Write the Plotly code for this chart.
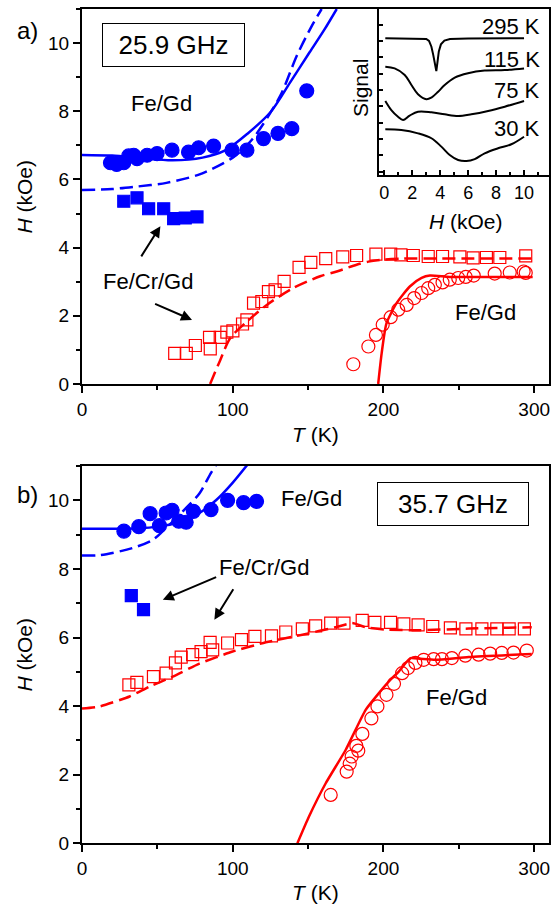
import plotly.graph_objects as go

# ---------------- Panel a (25.9 GHz) ----------------
a_fegd_blue_T = [18.9, 23.0, 27.7, 31.0, 34.3, 36.5, 43.2, 49.8, 59.7, 70.7, 77.4, 87.3, 99.5, 109.4, 120.4, 130.0, 139.2, 149.1]
a_fegd_blue_H = [6.49, 6.44, 6.49, 6.69, 6.71, 6.61, 6.71, 6.76, 6.86, 6.80, 6.93, 6.98, 6.86, 6.86, 7.20, 7.35, 7.49, 8.60]
a_fecrgd_blue_T = [27.7, 36.5, 44.2, 54.2, 60.8, 68.5, 76.3]
a_fecrgd_blue_H = [5.36, 5.46, 5.14, 5.14, 4.85, 4.87, 4.90]
a_blue_solid_T = [0, 20, 40, 60, 80, 95, 110, 125, 138, 151, 161, 169]
a_blue_solid_H = [6.72, 6.70, 6.62, 6.56, 6.64, 6.85, 7.35, 7.97, 8.84, 9.73, 10.41, 11.0]
a_blue_dash_T = [0, 20, 34, 56, 78, 100, 113, 131.5, 142.5, 152.4, 159]
a_blue_dash_H = [5.69, 5.72, 5.78, 5.90, 6.15, 6.64, 7.18, 8.45, 9.63, 10.5, 11.0]
a_red_sq_T = [61.5, 69.2, 75.2, 85.1, 84.6, 91.7, 96.1, 100.1, 106.5, 109.4, 113.8, 119.3, 123.7, 128.1, 134.1, 144, 151.8, 161.7, 173, 182.2,
              195, 204.8, 211.6, 219.8, 229.7, 239.2, 250.7, 259.5, 268.3, 277.2, 294.4]
a_red_sq_H = [0.90, 0.90, 1.13, 1.03, 1.37, 1.37, 1.52, 1.56, 1.76, 1.88, 2.37, 2.42, 2.71, 2.76, 3.01, 3.42, 3.57, 3.68, 3.73, 3.77,
              3.81, 3.81, 3.79, 3.77, 3.74, 3.74, 3.73, 3.70, 3.71, 3.71, 3.76]
a_red_dash_T = [85, 91.7, 98.3, 109.4, 122.6, 140, 158, 169, 182.2, 190, 200, 213, 235, 257, 299]
a_red_dash_H = [0, 0.7, 1.34, 1.83, 2.32, 2.81, 3.16, 3.30, 3.50, 3.59, 3.65, 3.68, 3.68, 3.68, 3.68]
a_red_circ_T = [180, 190, 195, 199.5, 204.8, 209.8, 215.4, 220.4, 225.3, 229.7, 234.1, 239.2, 244, 249.6, 254.6, 259.9, 273.8, 283.8, 293, 294.4]
a_red_circ_H = [0.58, 1.10, 1.44, 1.74, 1.96, 2.18, 2.32, 2.52, 2.67, 2.81, 2.91, 2.98, 3.06, 3.11, 3.14, 3.18, 3.24, 3.27, 3.30, 3.26]
a_red_solid_T = [196.5, 198.8, 202, 208.7, 217.5, 225.3, 230.8, 244, 270, 299]
a_red_solid_H = [0, 0.9, 1.78, 2.37, 2.86, 3.11, 3.18, 3.14, 3.14, 3.14]

# ---------------- Panel b (35.7 GHz) ----------------
b_fegd_blue_T = [27.8, 37.7, 45.2, 51.4, 55.8, 59.8, 64.2, 69.1, 73.9, 85.6, 96.6, 107.2, 115.8]
b_fegd_blue_H = [9.10, 9.23, 9.61, 9.26, 9.63, 9.71, 9.39, 9.36, 9.68, 9.73, 10.0, 9.93, 9.97]
b_fecrgd_blue_T = [32.7, 40.8]
b_fecrgd_blue_H = [7.22, 6.81]
b_blue_solid_T = [0, 20, 35, 51.4, 66.8, 77.9, 88.9, 99.9, 109.8]
b_blue_solid_H = [9.17, 9.17, 9.18, 9.24, 9.39, 9.63, 10.0, 10.51, 11.04]
b_blue_dash_T = [0, 12, 33.7, 47, 53.6, 68, 77.9, 85.6, 90]
b_blue_dash_H = [8.39, 8.40, 8.61, 8.85, 9.10, 9.73, 10.2, 10.8, 11.1]
b_red_sq_T = [31.1, 36.4, 47.4, 55.8, 62, 65.8, 73.4, 79, 85, 86.7, 96.6, 105.8, 114.7, 125.7, 135.2, 146.2, 155, 165, 173.8, 185.9,
              194.3, 204.7, 213.5, 223, 232.7, 244.4, 254.7, 265.3, 275.2, 283.4, 293.5]
b_red_sq_H = [4.62, 4.69, 4.86, 4.96, 5.26, 5.43, 5.50, 5.59, 5.86, 5.64, 5.84, 5.94, 6.03, 6.05, 6.16, 6.25, 6.34, 6.42, 6.42, 6.50,
              6.44, 6.44, 6.40, 6.37, 6.32, 6.28, 6.25, 6.25, 6.25, 6.25, 6.25]
b_red_dash_T = [0, 11.7, 31.6, 44.8, 60.2, 77.9, 99.9, 122, 146.2, 168.3, 179.3, 188, 201.4, 223.4, 256.5, 298.4]
b_red_dash_H = [3.93, 3.99, 4.28, 4.57, 4.86, 5.24, 5.59, 5.86, 6.08, 6.30, 6.42, 6.30, 6.23, 6.21, 6.26, 6.30]
b_red_circ_T = [165, 175.6, 177.6, 178.9, 183.3, 182, 186, 192, 196, 202, 207, 212.4, 216.3, 221.2, 226.7, 233.3, 238.8, 245.4,
                254.3, 263.1, 270.8, 278.5, 286.3, 295.1]
b_red_circ_H = [1.41, 2.09, 2.32, 2.53, 2.70, 2.84, 3.19, 3.64, 3.99, 4.33, 4.65, 4.96, 5.11, 5.26, 5.35, 5.37, 5.37, 5.40,
                5.47, 5.50, 5.53, 5.55, 5.56, 5.62]
b_red_solid_T = [142.9, 150.6, 161.7, 174.9, 188.2, 197, 204.7, 210, 217.9, 224.5, 234.5, 256.5, 298.4]
b_red_solid_H = [0, 0.78, 1.75, 2.72, 3.89, 4.38, 4.77, 5.0, 5.40, 5.38, 5.35, 5.43, 5.52]

# ---------------- Inset (spectra) ----------------
inset_labels = ["295 K", "115 K", "75 K", "30 K"]
inset_label_S = [10.62, 8.23, 6.08, 3.34]
s295_H = [0.07, 2.5, 3.0, 3.2, 3.37, 3.50, 3.62, 3.72, 3.80, 3.90, 4.05, 4.3, 4.7, 6.0, 10.0]
s295_S = [9.79, 9.79, 9.74, 9.6, 9.18, 8.6, 7.9, 7.44, 8.05, 8.85, 9.35, 9.62, 9.73, 9.77, 9.79]
s115_H = [0.07, 0.74, 1.46, 1.94, 2.41, 3.01, 3.37, 3.85, 4.32, 5.04, 5.99, 7.18, 8.62, 10.0]
s115_S = [7.75, 7.63, 7.16, 6.44, 5.78, 5.42, 5.54, 5.96, 6.44, 6.97, 7.28, 7.47, 7.51, 7.63]
s75_H = [0.07, 0.5, 0.98, 1.34, 1.81, 2.41, 3.37, 4.32, 5.28, 6.23, 7.43, 8.62, 10.0]
s75_S = [5.30, 4.65, 4.17, 3.94, 4.25, 4.53, 4.49, 4.34, 4.22, 4.34, 4.58, 4.89, 5.30]
s30_H = [0.07, 1.22, 2.41, 3.37, 4.08, 4.68, 5.28, 5.88, 6.47, 7.18, 8.14, 9.09, 10.0]
s30_S = [3.27, 3.22, 2.98, 2.63, 2.03, 1.43, 1.07, 1.00, 1.14, 1.55, 1.91, 2.20, 2.74]

x_ticks = [0, 100, 200, 300]
y_ticks = [0, 2, 4, 6, 8, 10]
inset_x_ticks = [0, 2, 4, 6, 8, 10]

BLUE = "rgb(0,0,255)"
RED = "rgb(255,0,0)"
FONT = "Liberation Sans, Arial, sans-serif"

fig = go.Figure()


def line(x, y, color, xa, ya, dash=None, smooth=0.8, shape="spline"):
    fig.add_trace(go.Scatter(x=x, y=y, mode="lines", xaxis=xa, yaxis=ya,
                             line=dict(color=color, width=2.5, dash=dash, shape=shape,
                                       smoothing=smooth if shape == "spline" else None),
                             showlegend=False, hoverinfo="skip"))


def pts(x, y, color, sym, size, xa, ya):
    fig.add_trace(go.Scatter(x=x, y=y, mode="markers", xaxis=xa, yaxis=ya,
                             marker=dict(color=color, symbol=sym, size=size,
                                         line=dict(color=color, width=1.2)),
                             showlegend=False, hoverinfo="skip"))


DASH = "13px,6px"
# panel a
line(a_blue_solid_T, a_blue_solid_H, BLUE, "x", "y")
line(a_blue_dash_T, a_blue_dash_H, BLUE, "x", "y", dash=DASH)
line(a_red_dash_T, a_red_dash_H, RED, "x", "y", dash=DASH)
line(a_red_solid_T, a_red_solid_H, RED, "x", "y", smooth=0.6)
pts(a_fegd_blue_T, a_fegd_blue_H, BLUE, "circle", 14, "x", "y")
pts(a_fecrgd_blue_T, a_fecrgd_blue_H, BLUE, "square", 12, "x", "y")
pts(a_red_sq_T, a_red_sq_H, RED, "square-open", 12, "x", "y")
pts(a_red_circ_T, a_red_circ_H, RED, "circle-open", 13, "x", "y")

# panel b
line(b_blue_solid_T, b_blue_solid_H, BLUE, "x2", "y2")
line(b_blue_dash_T, b_blue_dash_H, BLUE, "x2", "y2", dash=DASH)
line(b_red_dash_T, b_red_dash_H, RED, "x2", "y2", dash=DASH, smooth=0.5)
line(b_red_solid_T, b_red_solid_H, RED, "x2", "y2", smooth=0.5)
pts(b_fegd_blue_T, b_fegd_blue_H, BLUE, "circle", 14, "x2", "y2")
pts(b_fecrgd_blue_T, b_fecrgd_blue_H, BLUE, "square", 12, "x2", "y2")
pts(b_red_sq_T, b_red_sq_H, RED, "square-open", 12, "x2", "y2")
pts(b_red_circ_T, b_red_circ_H, RED, "circle-open", 13, "x2", "y2")

# inset
for hx, sy, sh in [(s295_H, s295_S, "linear"), (s115_H, s115_S, "spline"),
                   (s75_H, s75_S, "spline"), (s30_H, s30_S, "spline")]:
    fig.add_trace(go.Scatter(x=hx, y=sy, mode="lines", xaxis="x3", yaxis="y3",
                             line=dict(color="black", width=2, shape=sh),
                             showlegend=False, hoverinfo="skip"))

W, H = 559, 905


def px(x):
    return x / W


def py(y):
    return 1 - y / H


main_x = dict(range=[0, 309.5], tickvals=x_ticks, ticks="outside", ticklen=7, tickwidth=2, automargin=False,
              minor=dict(dtick=50, tick0=0, ticks="outside", ticklen=4, tickwidth=2, tickcolor="black"),
              showline=True, linewidth=2, linecolor="black", mirror=True, showgrid=False, zeroline=False,
              tickfont=dict(size=19, color="black", family=FONT), tickcolor="black")
main_y = dict(range=[0, 11], tickvals=y_ticks, ticks="outside", ticklen=7, tickwidth=2, automargin=False,
              minor=dict(dtick=1, tick0=0, ticks="outside", ticklen=4, tickwidth=2, tickcolor="black"),
              showline=True, linewidth=2, linecolor="black", mirror=True, showgrid=False, zeroline=False,
              tickfont=dict(size=19, color="black", family=FONT), tickcolor="black")

fig.update_layout(
    width=W, height=H, autosize=False, margin=dict(l=0, r=0, t=0, b=0, pad=0),
    paper_bgcolor="white", plot_bgcolor="white",
    font=dict(family=FONT, color="black"),
    xaxis=dict(domain=[px(82), px(548.5)], anchor="y", **main_x),
    yaxis=dict(domain=[py(384), py(9)], anchor="x", **main_y),
    xaxis2=dict(domain=[px(82), px(548.5)], anchor="y2", **main_x),
    yaxis2=dict(domain=[py(843.3), py(466)], anchor="x2", **main_y),
    xaxis3=dict(domain=[px(379.3), px(548.5)], anchor="y3", range=[-0.36, 11.75], automargin=False,
                tickvals=inset_x_ticks, ticks="inside", ticklen=5, tickwidth=2, tickcolor="black",
                minor=dict(dtick=1, tick0=0, ticks="inside", ticklen=3, tickwidth=2, tickcolor="black"),
                showline=True, linewidth=2, linecolor="black", mirror=True, showgrid=False, zeroline=False,
                tickfont=dict(size=18, color="black", family=FONT)),
    yaxis3=dict(domain=[py(175), py(9)], anchor="x3", range=[0, 11.88], showticklabels=False, automargin=False,
                tick0=0.24, dtick=1.17, ticks="inside", ticklen=4, tickwidth=2, tickcolor="black",
                showline=True, linewidth=2, linecolor="black", mirror=True, showgrid=False, zeroline=False),
)

ann = []


def text(x, y, s, size, xref="paper", yref="paper", xanchor="center", **kw):
    d = dict(x=x, y=y, xref=xref, yref=yref, text=s, showarrow=False,
             xanchor=xanchor, yanchor="middle",
             font=dict(size=size, color="black", family=FONT))
    d.update(kw)
    ann.append(d)


def arrow(xh, yh, xt, yt, xr, yr):
    ann.append(dict(x=xh, y=yh, ax=xt, ay=yt, xref=xr, yref=yr, axref=xr, ayref=yr,
                    text="", showarrow=True, arrowhead=2, arrowsize=1.1, arrowwidth=2, arrowcolor="black"))


# panel labels
text(px(27), py(30), "a)", 24)
text(px(27), py(494), "b)", 24)
# axis titles
text(px(24), py(196.5), "<i>H</i> (kOe)", 21, textangle=-90)
text(px(24), py(654.5), "<i>H</i> (kOe)", 21, textangle=-90)
text(px(315), py(434), "<i>T</i> (K)", 21)
text(px(315), py(892), "<i>T</i> (K)", 21)
text(px(360), py(88), "Signal", 21, textangle=-90)
text(px(466), py(222), "<i>H</i> (kOe)", 21)

# frequency boxes
text(61, 9.94, "25.9 GHz", 26, xref="x", yref="y", bordercolor="black", borderwidth=1,
     borderpad=0, width=141, height=42)
text(246, 9.88, "35.7 GHz", 26, xref="x2", yref="y2", bordercolor="black", borderwidth=1,
     borderpad=0, width=150, height=42)

# sample labels
text(52.6, 8.24, "Fe/Gd", 22, xref="x", yref="y")
text(44, 3.0, "Fe/Cr/Gd", 22, xref="x", yref="y")
text(268, 2.09, "Fe/Gd", 22, xref="x", yref="y")
text(152, 10.05, "Fe/Gd", 22, xref="x2", yref="y2")
text(121, 8.04, "Fe/Cr/Gd", 22, xref="x2", yref="y2")
text(248.3, 4.24, "Fe/Gd", 22, xref="x2", yref="y2")

# arrows
arrow(52, 4.63, 38.7, 3.70, "x", "y")
arrow(73, 1.88, 47.5, 2.37, "x", "y")
arrow(53.6, 7.10, 90, 7.78, "x2", "y2")
arrow(87.8, 6.52, 101, 7.45, "x2", "y2")

# inset labels
for lab, s in zip(inset_labels, inset_label_S):
    text(11.3, s, lab, 22, xref="x3", yref="y3", xanchor="right")

fig.update_layout(annotations=ann)
fig.write_html("out.html", config={"displayModeBar": False},
               post_script="document.body.style.margin='0px';document.body.style.overflow='hidden';")
